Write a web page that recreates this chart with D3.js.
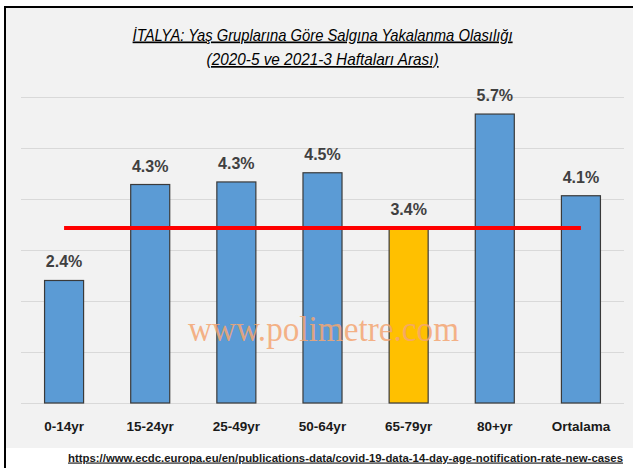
<!DOCTYPE html>
<html>
<head>
<meta charset="utf-8">
<script src="https://cdn.jsdelivr.net/npm/d3@7"></script>
<style>
  body { margin: 0; background: #fff; }
  svg { display: block; }
  text { font-family: "Liberation Sans", "DejaVu Sans", sans-serif; }
</style>
</head>
<body>
<svg id="vis-svg" width="633" height="468"></svg>
<script>
var width  = 633;
var height = 468;

// data
const categories = ["0-14yr", "15-24yr", "25-49yr", "50-64yr", "65-79yr", "80+yr", "Ortalama"];
const values     = [2.40, 4.28, 4.33, 4.51, 3.42, 5.66, 4.06];
const highlight  = "65-79yr";
const averageLine = 3.43;
const yTicks = [0, 1, 2, 3, 4, 5, 6];
const titleLines = ["İTALYA: Yaş Gruplarına Göre Salgına Yakalanma Olasılığı",
                    "(2020-5 ve 2021-3 Haftaları Arası)"];
const sourceUrl = "https://www.ecdc.europa.eu/en/publications-data/covid-19-data-14-day-age-notification-rate-new-cases";
const watermark = "www.polimetre.com";

const plot = { left: 21, right: 624, top: 96.7, bottom: 403 };

const svg = d3.select("#vis-svg");

// frame + gray chart area
svg.append("rect").attr("x", 0).attr("y", 0).attr("width", width).attr("height", height).attr("fill", "#fff");
svg.append("rect").attr("x", 6).attr("y", 8).attr("width", width - 6).attr("height", 440).attr("fill", "#f2f2f2");
svg.append("line").attr("x1", 5).attr("x2", 5).attr("y1", 7).attr("y2", height)
   .attr("stroke", "#000").attr("stroke-width", 2);
svg.append("line").attr("x1", 4).attr("x2", width).attr("y1", 7).attr("y2", 7)
   .attr("stroke", "#000").attr("stroke-width", 2);

const x = d3.scaleBand()
    .domain(categories)
    .range([plot.left, plot.right])
    .paddingInner(0.547)
    .paddingOuter(0.2735);

const y = d3.scaleLinear()
    .domain([0, 6])
    .range([plot.bottom, plot.top]);

//gridlines
svg.append("g").selectAll("line").data(yTicks).enter()
   .append("line")
   .attr("x1", plot.left).attr("x2", plot.right)
   .attr("y1", d => Math.round(y(d)) + 0.5).attr("y2", d => Math.round(y(d)) + 0.5)
   .attr("stroke", "#d9d9d9").attr("stroke-width", 1);

//bars
svg.append("g").selectAll("rect").data(categories).enter()
   .append("rect")
   .attr("x", d => x(d))
   .attr("y", (d, i) => y(values[i]))
   .attr("width", x.bandwidth())
   .attr("height", (d, i) => y(0) - y(values[i]))
   .attr("fill", d => d === highlight ? "#ffc000" : "#5b9bd5")
   .attr("stroke", "#3a3a3a").attr("stroke-width", 1.2);

//value labels
const fmt = d3.format(".1f");
svg.append("g").selectAll("text").data(categories).enter()
   .append("text")
   .attr("x", d => x(d) + x.bandwidth() / 2)
   .attr("y", (d, i) => y(values[i]) - 13)
   .attr("text-anchor", "middle")
   .attr("font-size", 16).attr("font-weight", "bold")
   .attr("fill", "#404040")
   .text((d, i) => fmt(values[i]) + "%");

//average line
svg.append("line")
   .attr("x1", x(categories[0]) + x.bandwidth() / 2)
   .attr("x2", x(categories[categories.length - 1]) + x.bandwidth() / 2)
   .attr("y1", y(averageLine)).attr("y2", y(averageLine))
   .attr("stroke", "#ff0000").attr("stroke-width", 4);

//category labels
svg.append("g").selectAll("text").data(categories).enter()
   .append("text")
   .attr("x", d => x(d) + x.bandwidth() / 2)
   .attr("y", 431)
   .attr("text-anchor", "middle")
   .attr("font-size", 13.5).attr("font-weight", "bold")
   .attr("fill", "#1a1a1a")
   .text(d => d);

//title
const titleWidths = [380, 232];
svg.append("g").selectAll("text").data(titleLines).enter()
   .append("text")
   .attr("x", 322.6)
   .attr("y", (d, i) => 40.5 + i * 24.5)
   .attr("text-anchor", "middle")
   .attr("font-size", 17).attr("font-style", "italic")
   .attr("text-decoration", "underline")
   .attr("fill", "#000")
   .attr("textLength", (d, i) => titleWidths[i])
   .attr("lengthAdjust", "spacingAndGlyphs")
   .text(d => d);

//watermark
svg.append("text")
   .attr("x", 323.5).attr("y", 341)
   .attr("text-anchor", "middle")
   .style("font-family", "'Liberation Serif', 'DejaVu Serif', serif")
   .attr("font-size", 35)
   .attr("fill", "#f4a672").attr("fill-opacity", 0.85)
   .attr("textLength", 271).attr("lengthAdjust", "spacingAndGlyphs")
   .text(watermark);

//source
svg.append("text")
   .attr("x", 68).attr("y", 461.5)
   .attr("font-size", 11.5).attr("font-weight", "bold")
   .attr("text-decoration", "underline")
   .attr("fill", "#1a1a1a")
   .attr("textLength", 555).attr("lengthAdjust", "spacingAndGlyphs")
   .text(sourceUrl);
</script>
</body>
</html>
